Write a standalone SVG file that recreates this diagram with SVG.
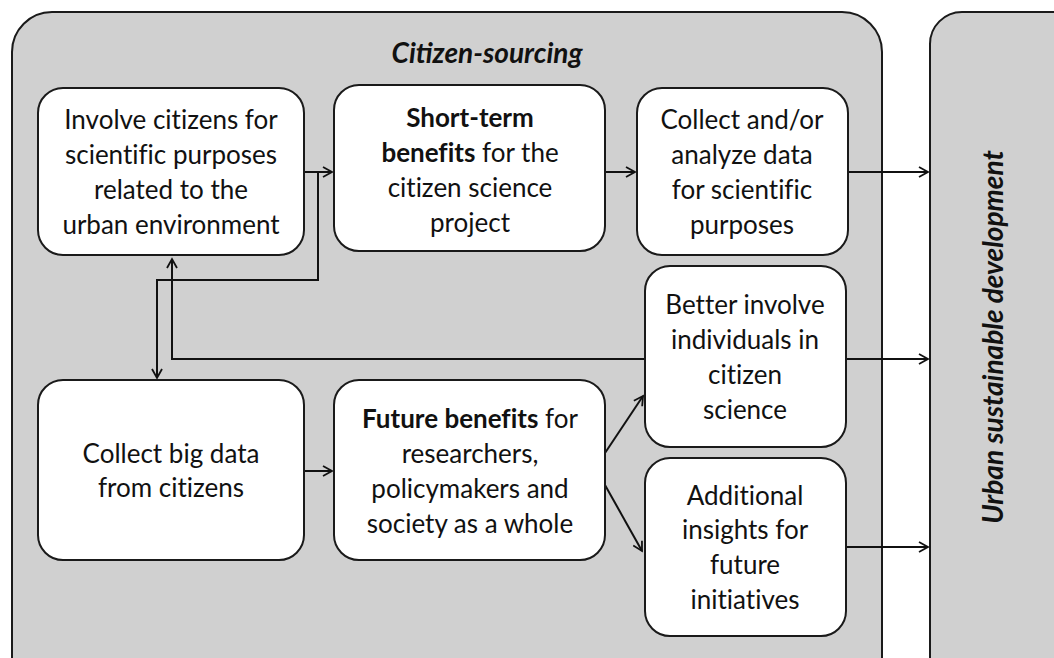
<svg xmlns="http://www.w3.org/2000/svg" width="1054" height="658" viewBox="0 0 1054 658">
<style>
.panel{fill:#d0d0d0;stroke:#1a1a1a;stroke-width:2}
.node{fill:#fff;stroke:#1a1a1a;stroke-width:2}
.t{font-family:Lato,"Liberation Sans",sans-serif;font-size:26px;fill:#111;text-anchor:middle;font-variant-ligatures:none}
.b{font-weight:bold}
.title{font-family:Lato,"Liberation Sans",sans-serif;font-size:28px;font-weight:bold;font-style:italic;fill:#111;text-anchor:middle}
.c{fill:none;stroke:#111;stroke-width:2}
</style>
<defs>
<marker id="arr" markerWidth="12" markerHeight="12" refX="10" refY="6" orient="auto" markerUnits="userSpaceOnUse">
<path d="M1,1 L10,6 L1,11" fill="none" stroke="#111" stroke-width="1.8"/>
</marker>
</defs>
<rect width="1054" height="658" fill="#fff"/>
<g id="citizen-sourcing">
<rect class="panel" x="12" y="12" width="870" height="700" rx="40"/>
<text class="title" x="487" y="63">Citizen-sourcing</text>
</g>
<g id="urban">
<rect class="panel" x="930" y="12" width="160" height="700" rx="32"/>
<text class="title" transform="translate(1003,337) rotate(-90)">Urban sustainable development</text>
</g>
<g id="connectors">
<path class="c" d="M304,172 H332" marker-end="url(#arr)"/>
<path class="c" d="M318,172 V280 H157 V378" marker-end="url(#arr)"/>
<path class="c" d="M645,359 H172 V259" marker-end="url(#arr)"/>
<path class="c" d="M605,172 H635" marker-end="url(#arr)"/>
<path class="c" d="M848,172 H928" marker-end="url(#arr)"/>
<path class="c" d="M846,359 H928" marker-end="url(#arr)"/>
<path class="c" d="M846,547 H928" marker-end="url(#arr)"/>
<path class="c" d="M304,471 H332" marker-end="url(#arr)"/>
<path class="c" d="M605,453 L643,396" marker-end="url(#arr)"/>
<path class="c" d="M605,485 L642,551" marker-end="url(#arr)"/>
</g>
<g id="n1">
<rect class="node" x="38" y="88" width="266" height="167" rx="25"/>
<text class="t"><tspan x="171" y="129">Involve citizens for</tspan><tspan x="171" y="164">scientific purposes</tspan><tspan x="171" y="199">related to the</tspan><tspan x="171" y="234">urban environment</tspan></text>
</g>
<g id="n2">
<rect class="node" x="334" y="85" width="271" height="166" rx="25"/>
<text class="t"><tspan x="470" y="127" class="b">Short-term</tspan><tspan x="470" y="162"><tspan class="b">benefits</tspan> for the</tspan><tspan x="470" y="197">citizen science</tspan><tspan x="470" y="232">project</tspan></text>
</g>
<g id="n3">
<rect class="node" x="637" y="88" width="211" height="167" rx="25"/>
<text class="t"><tspan x="742" y="129">Collect and/or</tspan><tspan x="742" y="164">analyze data</tspan><tspan x="742" y="199">for scientific</tspan><tspan x="742" y="234">purposes</tspan></text>
</g>
<g id="n4">
<rect class="node" x="645" y="266" width="201" height="181" rx="25"/>
<text class="t"><tspan x="745" y="314">Better involve</tspan><tspan x="745" y="349">individuals in</tspan><tspan x="745" y="384">citizen</tspan><tspan x="745" y="419">science</tspan></text>
</g>
<g id="n5">
<rect class="node" x="645" y="458" width="201" height="178" rx="25"/>
<text class="t"><tspan x="745" y="505">Additional</tspan><tspan x="745" y="539">insights for</tspan><tspan x="745" y="574">future</tspan><tspan x="745" y="609">initiatives</tspan></text>
</g>
<g id="n6">
<rect class="node" x="38" y="380" width="266" height="180" rx="25"/>
<text class="t"><tspan x="171" y="463">Collect big data</tspan><tspan x="171" y="497">from citizens</tspan></text>
</g>
<g id="n7">
<rect class="node" x="334" y="380" width="271" height="180" rx="25"/>
<text class="t"><tspan x="470" y="428"><tspan class="b">Future benefits</tspan> for</tspan><tspan x="470" y="463">researchers,</tspan><tspan x="470" y="498">policymakers and</tspan><tspan x="470" y="533">society as a whole</tspan></text>
</g>
</svg>
